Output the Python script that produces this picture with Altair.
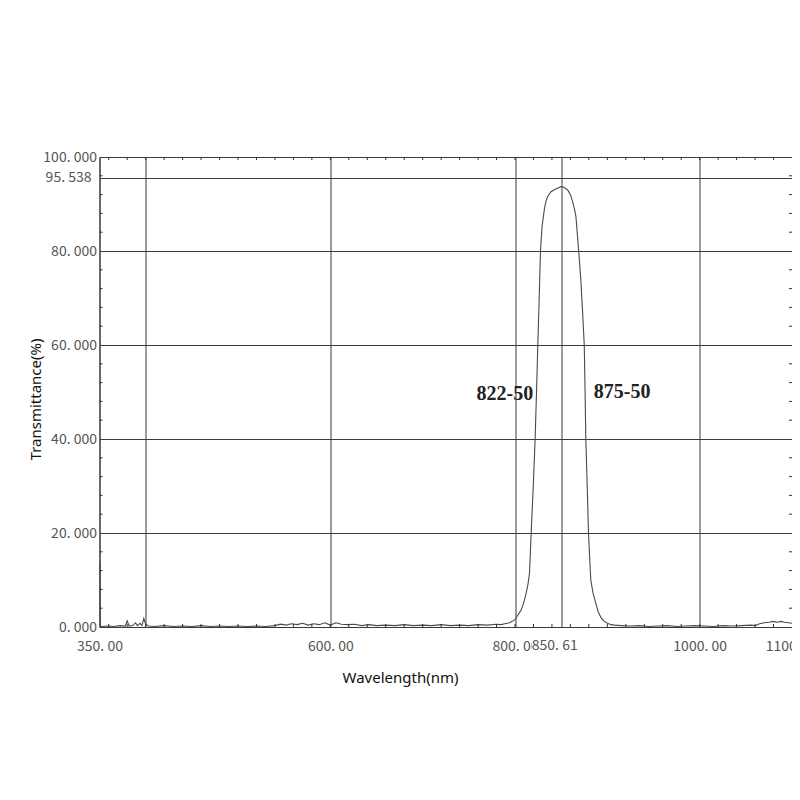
import altair as alt
import pandas as pd

# ---- data ----
wavelength = [350.4, 351, 352, 360, 366, 372, 378, 380, 382, 386, 389, 391, 394, 396, 398, 400, 403,
              410, 420, 430, 440, 450, 460, 470, 480, 490, 500, 510, 520, 530, 540, 546, 552, 558,
              564, 570, 576, 582, 588, 594, 600, 606, 612, 618, 626, 634, 642, 650, 660, 670, 680,
              690, 700, 710, 720, 730, 740, 750, 760, 770, 780, 785, 789, 794, 797,
              799.6, 803, 806.7, 809.5, 812.1, 814, 815.7, 817.5, 819.8, 821.8, 823.3, 824.7,
              826.2, 827.6, 829.3, 831.9, 833.6, 835.4, 839, 843, 846.5, 849.8, 852.5, 855, 857,
              860, 862.4, 864.3, 866, 868.9, 871.3, 873.2, 875, 875.9, 876.7, 878.2, 879.6, 880.8,
              882.1, 884.5, 887.5, 890, 892.9, 896, 900.1, 904, 908, 915, 925, 935, 945, 955, 965,
              975, 985, 995, 1005, 1015, 1025, 1035, 1045, 1055, 1060, 1065, 1070, 1075, 1080,
              1084, 1088, 1092, 1096, 1100]
transmittance = [14.0, 0.2, 0.1, 0.2, 0.1, 0.3, 0.2, 1.3, 0.2, 0.3, 0.9, 0.3, 0.8, 0.3, 1.8, 0.6, 0.2,
                 0.1, 0.3, 0.1, 0.2, 0.1, 0.3, 0.1, 0.2, 0.1, 0.2, 0.1, 0.2, 0.1, 0.3, 0.6, 0.4, 0.7,
                 0.5, 0.8, 0.4, 0.7, 0.5, 0.9, 0.4, 0.9, 0.6, 0.5, 0.6, 0.3, 0.5, 0.3, 0.4, 0.3, 0.5,
                 0.3, 0.4, 0.3, 0.5, 0.3, 0.4, 0.3, 0.5, 0.4, 0.6, 0.5, 0.7, 0.9, 1.2,
                 1.5, 2.5, 3.6, 5.2, 7.2, 9.0, 11.5, 20, 30, 40, 50, 60,
                 70, 80, 85.2, 89.0, 90.6, 91.6, 92.6, 93.1, 93.4, 93.7, 93.6, 93.3, 93.0,
                 92.0, 90.5, 89.0, 87.3, 80.2, 73.8, 67, 60, 50, 40, 30, 20, 15,
                 10, 7.2, 5.1, 3.3, 2.1, 1.3, 0.8, 0.5, 0.4, 0.3, 0.2, 0.3, 0.1, 0.2, 0.3,
                 0.1, 0.2, 0.3, 0.2, 0.1, 0.3, 0.2, 0.3, 0.4, 0.3, 0.7, 0.9, 1.0, 1.2,
                 1.0, 1.2, 1.0, 0.9, 0.8]

x_label_values = [350, 400, 600, 800, 850.61, 1000, 1100]
y_label_values = [0, 20, 40, 60, 80, 95.538, 100]
x_minor = [360, 380, 400, 420, 440, 460, 480, 500, 520, 540, 560, 580, 600, 620, 640, 660, 680,
           700, 720, 740, 760, 780, 800, 820, 840, 860, 880, 900, 920, 940, 960, 980, 1000,
           1020, 1040, 1060, 1080]
y_minor = [4, 8, 12, 16, 24, 28, 32, 36, 44, 48, 52, 56, 64, 68, 72, 76, 84, 88, 92, 96]

peak_label = "850. 61"
peak_value = 850.61
ref_label = "95. 538"
ref_value = 95.538
ann_text = ["822-50", "875-50"]
ann_x = [789, 916]
ann_y = [49.6, 50.0]

W, H = 692.5, 470
TICK_FONT = "Noto Sans CJK SC"
TICK_COLOR = "#555555"
GRID_COLOR = "#3a3a3a"

curve_df = pd.DataFrame({"wl": wavelength, "t": transmittance})
xm_df = pd.DataFrame({"wl": x_minor})
ym_df = pd.DataFrame({"t": y_minor})
ann_df = pd.DataFrame({"text": ann_text, "wl": ann_x, "t": ann_y})

xscale = alt.Scale(domain=[350, 1100], nice=False, zero=False)
yscale = alt.Scale(domain=[0, 100], nice=False, zero=False)

x_axis = alt.Axis(
    values=x_label_values,
    labelExpr="(datum.value == 400 || datum.value == 850.61) ? '' : replace(format(datum.value, '.2f'), '.', '. ')",
    grid=True, gridColor=GRID_COLOR, gridWidth=1, gridOpacity=1,
    ticks=False, domain=False, labelOverlap=False,
    labelFont=TICK_FONT, labelFontSize=14, labelColor=TICK_COLOR,
    labelBaseline="middle", labelPadding=19, labelFlush=False,
    title="Wavelength(nm)", titleFont="Noto Sans", titleFontSize=15, titleFontWeight="normal",
    titleColor="#111111", titleX=300.5, titleY=50, titleBaseline="middle",
    titleAlign="center",
)
y_axis = alt.Axis(
    values=y_label_values,
    labelExpr="datum.value == 95.538 ? '' : replace(format(datum.value, '.3f'), '.', '. ')",
    grid=True, gridColor=GRID_COLOR, gridWidth=1, gridOpacity=1,
    ticks=False, domain=False, labelOverlap=False,
    labelFont=TICK_FONT, labelFontSize=14, labelColor=TICK_COLOR,
    labelPadding=3, labelFlush=False,
    title="Transmittance(%)", titleFont="Noto Sans", titleFontSize=15, titleFontWeight="normal",
    titleColor="#111111", titleX=-64, titleY=242, titleBaseline="middle", titleAlign="center",
    titleAngle=270,
)

base = alt.Chart(curve_df)

curve = base.mark_line(color="#4a4a4a", strokeWidth=1.1, interpolate="linear").encode(
    x=alt.X("wl:Q", scale=xscale, axis=x_axis),
    y=alt.Y("t:Q", scale=yscale, axis=y_axis),
)

top_ticks = alt.Chart(xm_df).mark_rule(color="#333333", strokeWidth=1).encode(
    x="wl:Q", y=alt.value(0), y2=alt.value(3))
bot_ticks = alt.Chart(xm_df).mark_rule(color="#333333", strokeWidth=1).encode(
    x="wl:Q", y=alt.value(H - 3), y2=alt.value(H))
left_ticks = alt.Chart(ym_df).mark_rule(color="#333333", strokeWidth=1).encode(
    y="t:Q", x=alt.value(0), x2=alt.value(3))
right_ticks = alt.Chart(ym_df).mark_rule(color="#333333", strokeWidth=1).encode(
    y="t:Q", x=alt.value(W - 3), x2=alt.value(W))

mask = alt.Chart(pd.DataFrame({"v": [peak_value]})).mark_rect(
    color="white", xOffset=-30, x2Offset=16).encode(
    x="v:Q", x2="v:Q", y=alt.value(H + 9), y2=alt.value(H + 30))
peak_txt = alt.Chart(pd.DataFrame({"v": [peak_value], "s": [peak_label]})).mark_text(
    font=TICK_FONT, fontSize=14, color=TICK_COLOR, baseline="middle", align="center", dx=-7).encode(
    x="v:Q", y=alt.value(H + 19), text="s:N")
ref_txt = alt.Chart(pd.DataFrame({"v": [ref_value], "s": [ref_label]})).mark_text(
    font=TICK_FONT, fontSize=14, color=TICK_COLOR, baseline="middle", align="right").encode(
    y="v:Q", x=alt.value(-8), text="s:N")

ann = alt.Chart(ann_df).mark_text(
    font="Liberation Serif", fontSize=20, fontWeight="bold", color="#222222",
    baseline="middle", align="center").encode(
    x="wl:Q", y="t:Q", text="text:N")

chart = alt.layer(curve, top_ticks, bot_ticks, left_ticks, right_ticks, mask, peak_txt, ref_txt, ann).properties(
    width=W, height=H,
    autosize=alt.AutoSizeParams(type="none"),
    padding={"left": 91.5, "top": 149, "right": 0, "bottom": 120},
    background="white",
).configure_view(stroke="#333333", strokeWidth=1)

chart.save("out.html", embed_options={"renderer": "svg", "actions": False})
